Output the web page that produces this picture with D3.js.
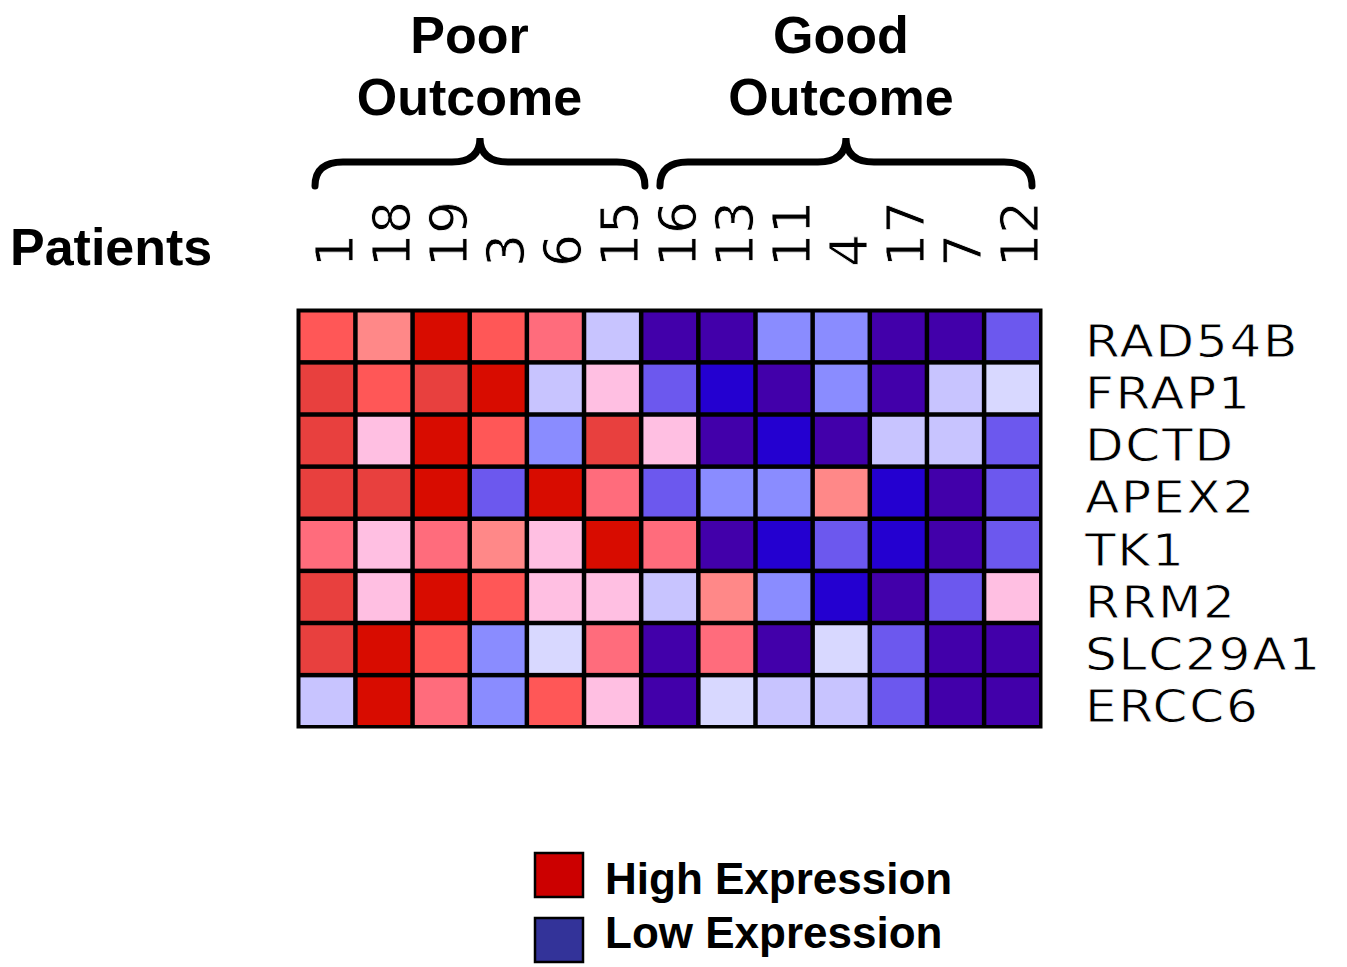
<!DOCTYPE html>
<html><head><meta charset="utf-8">
<script src="https://cdn.jsdelivr.net/npm/d3@7/dist/d3.min.js"></script>
<style>body{margin:0;background:#fff}svg{display:block}</style>
</head><body>
<svg id="c" width="1347" height="967"></svg>
<script>
const patients = ["1","18","19","3","6","15","16","13","11","4","17","7","12"];
const genes = ["RAD54B","FRAP1","DCTD","APEX2","TK1","RRM2","SLC29A1","ERCC6"];
// expression level per gene (rows) and patient (columns): +6 highest ... -6 lowest
const RAD54B  = [ 4, 2, 6, 4, 3,-2,-6,-6,-3,-3,-6,-6,-4];
const FRAP1   = [ 5, 4, 5, 6,-2, 1,-4,-5,-6,-3,-6,-2,-1];
const DCTD    = [ 5, 1, 6, 4,-3, 5, 1,-6,-5,-6,-2,-2,-4];
const APEX2   = [ 5, 5, 6,-4, 6, 3,-4,-3,-3, 2,-5,-6,-4];
const TK1     = [ 3, 1, 3, 2, 1, 6, 3,-6,-5,-4,-5,-6,-4];
const RRM2    = [ 5, 1, 6, 4, 1, 1,-2, 2,-3,-5,-6,-4, 1];
const SLC29A1 = [ 5, 6, 4,-3,-1, 3,-6, 3,-6,-1,-4,-6,-6];
const ERCC6   = [-2, 6, 3,-3, 4, 1,-6,-1,-2,-2,-4,-6,-6];
const levels = [6,5,4,3,2,1,-1,-2,-3,-4,-5,-6];
const levelColors = ["#d80c00","#e8403e","#ff5757","#ff6c7c","#ff8888","#ffbfe2",
                     "#d8d8ff","#c8c4ff","#8a8cff","#6c58ee","#2400d0","#4200aa"];
const groups = [{name:["Poor","Outcome"], from:"1", to:"15"},{name:["Good","Outcome"], from:"16", to:"12"}];
const legendItems = [{label:"High Expression", color:"#cc0000"},{label:"Low Expression", color:"#333399"}];

const matrix = [RAD54B,FRAP1,DCTD,APEX2,TK1,RRM2,SLC29A1,ERCC6];
const svg = d3.select("#c");
const x = d3.scaleBand().domain(patients).range([298,1041]);
const y = d3.scaleBand().domain(genes).range([310,727]);
const color = d3.scaleOrdinal().domain(levels).range(levelColors);

// frame
svg.append("rect").attr("x",296.5).attr("y",308.5).attr("width",746).attr("height",420)
  .attr("fill","#000");
const cells = [];
genes.forEach((g,i)=>patients.forEach((p,j)=>cells.push({g,p,v:matrix[i][j]})));
svg.append("g").selectAll("rect").data(cells).join("rect")
  .attr("x",d=>x(d.p)+2.5).attr("y",d=>y(d.g)+2.5)
  .attr("width",x.bandwidth()-4.5).attr("height",y.bandwidth()-4.5)
  .attr("fill",d=>color(d.v));

// column labels
svg.append("g").selectAll("text").data(patients).join("text")
  .attr("transform",d=>`translate(${x(d)+x.bandwidth()/2+26},267) rotate(-90)`)
  .attr("font-family","DejaVu Sans").attr("font-size",52)
  .attr("fill","#000").attr("stroke","#fff").attr("stroke-width",0.8).attr("paint-order","fill")
  .text(d=>d);

// row labels
svg.append("g").selectAll("text").data(genes).join("text")
  .attr("transform",d=>`translate(1085,${y(d)+y.bandwidth()/2+21}) scale(1.14,1)`)
  .attr("font-family","DejaVu Sans").attr("font-size",44)
  .attr("letter-spacing",1.5).attr("fill","#000").attr("stroke","#fff").attr("stroke-width",0.8)
  .text(d=>d);

// Patients
svg.append("text").attr("x",10).attr("y",265).attr("font-family","Liberation Sans, Arial")
  .attr("font-weight","bold").attr("font-size",52).text("Patients");

// group braces and labels
const braceInset = [[17,-4],[19,9]];
groups.forEach((gr,gi)=>{
  const b0 = x(gr.from), b1 = x(gr.to)+x.bandwidth();
  const x0 = b0+braceInset[gi][0], x1 = b1-braceInset[gi][1];
  const xm = (x0+x1)/2;
  const p = d3.path();
  p.moveTo(x0,186);
  p.quadraticCurveTo(x0,162,x0+28,162);
  p.lineTo(xm-28,162);
  p.quadraticCurveTo(xm,162,xm,138);
  p.quadraticCurveTo(xm,162,xm+28,162);
  p.lineTo(x1-28,162);
  p.quadraticCurveTo(x1,162,x1,186);
  svg.append("path").attr("d",p.toString()).attr("fill","none").attr("stroke","#000")
    .attr("stroke-width",7).attr("stroke-linecap","round");
  const t = svg.append("text").attr("text-anchor","middle").attr("font-family","Liberation Sans, Arial")
    .attr("font-weight","bold").attr("font-size",52);
  gr.name.forEach((s,k)=>t.append("tspan").attr("x",(b0+b1)/2).attr("y",53+k*62).text(s));
});

// legend
const lg = svg.append("g");
legendItems.forEach((d,i)=>{
  lg.append("rect").attr("x",535).attr("y",853+i*65).attr("width",48).attr("height",44)
    .attr("fill",d.color).attr("stroke","#000").attr("stroke-width",2.5);
  lg.append("text").attr("x",605).attr("y",894+i*54).attr("font-family","Liberation Sans, Arial")
    .attr("font-weight","bold").attr("font-size",44).text(d.label);
});
</script>
</body></html>
